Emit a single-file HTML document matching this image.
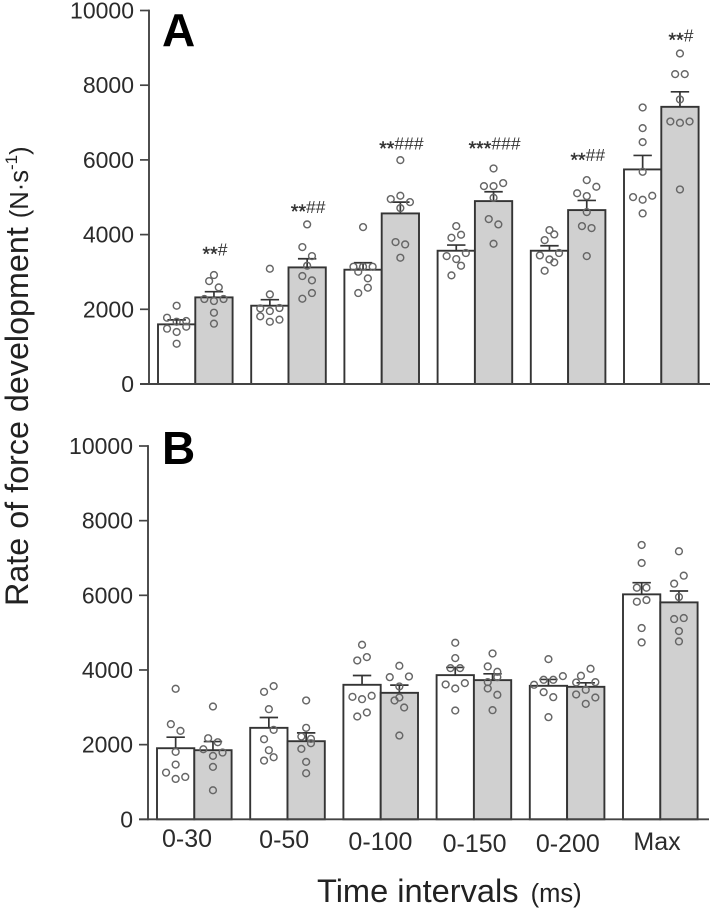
<!DOCTYPE html>
<html lang="en">
<head>
<meta charset="utf-8">
<title>Rate of force development</title>
<style>
html,body{margin:0;padding:0;background:#fff;width:712px;height:910px;overflow:hidden}
svg{display:block;font-family:"Liberation Sans",sans-serif;filter:blur(0.35px)}
</style>
</head>
<body>
<svg id="chart" xmlns="http://www.w3.org/2000/svg" width="712" height="910" viewBox="0 0 712 910">
  <text x="162" y="46" font-size="46" font-weight="bold" fill="#000">A</text>
  <text x="162" y="464" font-size="46" font-weight="bold" fill="#000">B</text>
  <text transform="translate(28,606) rotate(-90)" font-size="32.3" fill="#222">Rate of force development <tspan font-size="25.5">(N·s</tspan><tspan font-size="17" dy="-11">-1</tspan><tspan font-size="25.5" dy="11">)</tspan></text>
  <text x="317" y="902" font-size="32.6" fill="#222">Time intervals <tspan font-size="25.5" dx="3">(ms)</tspan></text>
</svg>
<script>
const categories = ["0-30", "0-50", "0-100", "0-150", "0-200", "Max"];
const yTicks = [0, 2000, 4000, 6000, 8000, 10000];

const meansAWhite = [1597, 2096, 3060, 3568, 3568, 5745];
const meansAGrey = [2319, 3122, 4567, 4897, 4656, 7421];
const semAWhite = [120, 161, 187, 152, 134, 374];
const semAGrey = [152, 232, 303, 250, 259, 402];
const sigStarsA = ["**", "**", "**", "***", "**", "**"];
const sigHashesA = ["#", "##", "###", "###", "##", "#"];
const sigHeightsA = [3604, 4745, 6440, 6440, 6128, 9340];

const meansBWhite = [1904, 2450, 3603, 3862, 3576, 6026];
const meansBGrey = [1851, 2092, 3388, 3728, 3549, 5811];
const semBWhite = [295, 277, 250, 206, 170, 312];
const semBGrey = [232, 223, 206, 170, 107, 304];

/* Individual subjects: each inner array is one horizontal swarm row, read left to right */
const subjectsAWhite = [
  [[2096], [1775, 1668, 1686], [1481, 1392, 1534], [1079]],
  [[3086], [2399], [2025, 1953, 2034], [1811, 1668, 1722]],
  [[4201], [3140, 3140, 3140], [3006, 2828], [2435, 2578]],
  [[4228], [3916, 3996], [3425, 3345, 3506], [2908, 3167]],
  [[4121], [3853, 4005], [3443, 3336, 3506], [3033, 3256]],
  [[7404], [6851], [6476], [5682], [5004, 4933, 5040], [4567]]
];
const subjectsAGrey = [
  [[2917], [2756, 2587], [2275, 2221, 2275], [1909], [1615]],
  [[4273], [3666, 3425], [3167], [2890, 2774], [2283, 2435]],
  [[5994], [4951, 5040, 4870], [4710], [3800, 3737], [3381]],
  [[5771], [5298, 5298, 5379], [4986], [4415, 4273], [3755]],
  [[5459], [5107, 5031, 5281], [4603], [4228, 4175], [3425]],
  [[8849], [8296, 8296], [7618], [7029, 6993, 7029], [5209]]
];
const subjectsBWhite = [
  [[3496], [2548, 2369], [1806], [1466], [1252, 1082, 1135]],
  [[3415, 3567], [2950], [2146, 2396], [1851], [1573, 1663]],
  [[4676], [4255, 4345], [3281, 3218, 3308], [2754, 2861]],
  [[4729], [4318], [4050, 4050], [3612, 3504, 3648], [2914]],
  [[4291], [3603, 3737, 3737, 3835], [3406, 3272], [2736]],
  [[7349], [6866], [6204, 6204], [5829, 5874], [5123], [4738]]
];
const subjectsBGrey = [
  [[3022], [2172, 2065], [1877, 1699, 1788], [1404], [778]],
  [[3183], [2450], [2217, 2155], [1886, 2038], [1538], [1234]],
  [[4112], [3808, 3558, 3826], [3263], [3183, 2995], [2244]],
  [[4443], [4095, 3952], [3674, 3808], [3504, 3335], [2923]],
  [[3844, 4032], [3665, 3469, 3674], [3344, 3093, 3263]],
  [[7179], [6312, 6526], [5954], [5364, 5391], [5042], [4765]]
];

const SVG_NS = "http://www.w3.org/2000/svg";
const svg = document.getElementById("chart");
const INK = "#343434";

function make(tag, attrs, parent) {
  const node = document.createElementNS(SVG_NS, tag);
  for (const key in attrs) node.setAttribute(key, attrs[key]);
  parent.appendChild(node);
  return node;
}

function drawBars(g, means, sems, subjects, fill, offset, xOf, yOf, series) {
  const barW = 37.3;
  means.forEach(function (mean, i) {
    const left = xOf(i) + offset;
    const center = left + barW / 2;
    const bar = make("rect", {x: left, y: yOf(mean), width: barW, height: yOf(0) - yOf(mean), fill: fill, stroke: INK, "stroke-width": 1.9}, g);
    
    

    const top = yOf(mean + sems[i]);
    const stem = make("line", {x1: center, x2: center, y1: yOf(mean), y2: top, stroke: INK, "stroke-width": 1.7}, g);
    
    
    const cap = make("line", {x1: center - 9.2, x2: center + 9.2, y1: top, y2: top, stroke: INK, "stroke-width": 1.7}, g);
    
    

    subjects[i].forEach(function (row) {
      row.forEach(function (value, k) {
        const cx = center + (k - (row.length - 1) / 2) * 9.6;
        const dot = make("circle", {cx: cx, cy: yOf(value), r: 3.4, fill: "none", stroke: "#666", "stroke-width": 1.45}, g);
        
        
      });
    });
  });
}

function drawPanel(name, zeroY, topY, spineX, firstBarX, axisEnd, cfg) {
  const labelShiftX = [-6, -2, 1, 2, 2, -2];
  const labelDrop = [27.7, 28.7, 30.7, 32.7, 32.7, 30.7];
  const g = make("g", {}, svg);
  
  
  const yOf = function (v) { return zeroY - v / 10000 * (zeroY - topY); };
  const xOf = function (i) { return firstBarX + i * 93.2; };

  drawBars(g, cfg.meansWhite, cfg.semWhite, cfg.subjectsWhite, "#ffffff", 0, xOf, yOf, name + "-white");
  drawBars(g, cfg.meansGrey, cfg.semGrey, cfg.subjectsGrey, "#d0d0d0", 37.3, xOf, yOf, name + "-grey");

  const spine = make("line", {x1: spineX, x2: spineX, y1: yOf(10000) - 0.9, y2: yOf(0) + 0.9, stroke: "#444", "stroke-width": 1.9}, g);
  
  
  const baseline = make("line", {x1: spineX - 9, x2: axisEnd, y1: yOf(0), y2: yOf(0), stroke: "#444", "stroke-width": 1.9}, g);
  
  

  yTicks.forEach(function (t) {
    const tick = make("line", {x1: spineX - 9, x2: spineX, y1: yOf(t), y2: yOf(t), stroke: "#444", "stroke-width": 1.7}, g);
    
    
    const label = make("text", {x: spineX - 15, y: yOf(t) + 8, "text-anchor": "end", "font-size": 23, fill: "#2b2b2b"}, g);
    
    
    label.textContent = String(t);
  });

  if (cfg.sigStars) {
    cfg.sigStars.forEach(function (stars, i) {
      const sig = make("text", {x: xOf(i) + 57, y: yOf(cfg.sigHeights[i]) + 6.1, "text-anchor": "middle", fill: "#333"}, g);
      
      
      const starSpan = make("tspan", {"font-size": 19.5, dy: 5.2, stroke: "#333", "stroke-width": 0.4}, sig);
      starSpan.textContent = stars;
      const hashSpan = make("tspan", {"font-size": 17.5, dy: -5.2}, sig);
      hashSpan.textContent = cfg.sigHashes[i];
    });
  }

  if (cfg.showCategories) {
    categories.forEach(function (c, i) {
      const cat = make("text", {x: xOf(i) + 36 + labelShiftX[i], y: zeroY + labelDrop[i], "text-anchor": "middle", "font-size": 25, fill: "#2b2b2b"}, g);
      
      
      cat.textContent = c;
    });
  }
}

drawPanel("a", 384, 10.5, 149, 158, 710, {
  meansWhite: meansAWhite, meansGrey: meansAGrey,
  semWhite: semAWhite, semGrey: semAGrey,
  subjectsWhite: subjectsAWhite, subjectsGrey: subjectsAGrey,
  sigStars: sigStarsA, sigHashes: sigHashesA, sigHeights: sigHeightsA, showCategories: false
});
drawPanel("b", 819.3, 446, 148, 157, 709, {
  meansWhite: meansBWhite, meansGrey: meansBGrey,
  semWhite: semBWhite, semGrey: semBGrey,
  subjectsWhite: subjectsBWhite, subjectsGrey: subjectsBGrey,
  sigStars: null, sigHashes: null, sigHeights: null, showCategories: true
});
</script>
</body>
</html>
